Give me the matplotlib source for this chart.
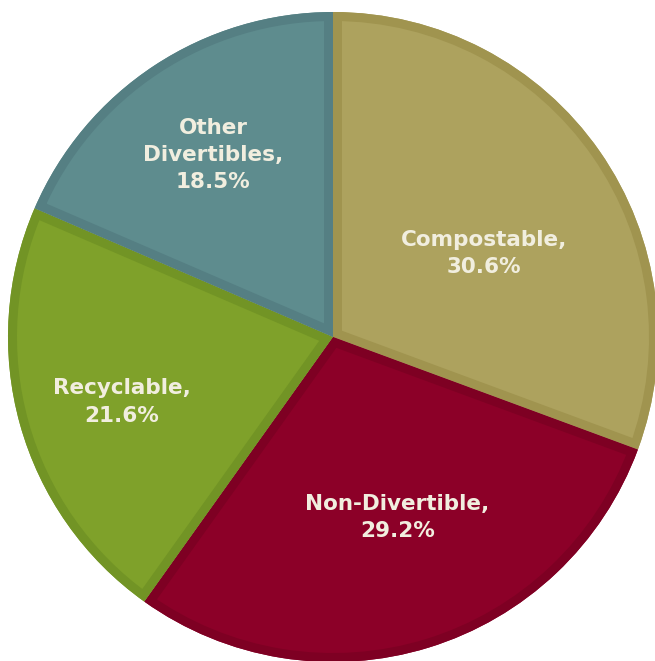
import numpy as np
import matplotlib
matplotlib.use("Agg")
import matplotlib.pyplot as plt
from matplotlib.patches import Wedge

# waste composition shares (%)
categories = ["Compostable", "Non-Divertible", "Recyclable", "Other\nDivertibles"]
shares = [30.6, 29.2, 21.6, 18.5]

fill_colors = ["#ADA25E", "#8C0028", "#7FA12A", "#5E8C8E"]
edge_colors = ["#A0944F", "#7E0023", "#729425", "#557F83"]

# label placement: fraction of radius, angular nudge in degrees
label_r = [0.53, 0.59, 0.68, 0.67]
label_nudge = [-6, 2.5, 1.5, 0]

W, H = 655, 661
cx, cy, R = 333, 337, 325

fig = plt.figure(figsize=(W / 100, H / 100), dpi=100)
ax = fig.add_axes([0, 0, 1, 1])
ax.axis("off")

wedges, _ = ax.pie(shares, colors=fill_colors, startangle=90, counterclock=False,
                   radius=1, wedgeprops=dict(linewidth=0))
ax.set_xlim(-cx / R, (W - cx) / R)
ax.set_ylim(-(H - cy) / R, cy / R)
ax.set_aspect("auto")

# darker border drawn inside each slice only
border_px = 9
for w, ec in zip(wedges, edge_colors):
    b = Wedge(w.center, w.r, w.theta1, w.theta2, facecolor="none", edgecolor=ec,
              linewidth=2 * border_px * 72 / 100, joinstyle="miter")
    ax.add_patch(b)
    b.set_clip_path(w)

for w, name, val, r, nd in zip(wedges, categories, shares, label_r, label_nudge):
    ang = np.deg2rad((w.theta1 + w.theta2) / 2 + nd)
    ax.text(r * np.cos(ang), r * np.sin(ang), f"{name},\n{val}%", ha="center", va="center",
            color="#F1EEDF", fontsize=15.5, fontweight="bold", family="DejaVu Sans",
            linespacing=1.45)

fig.savefig("out.png", dpi=100)
